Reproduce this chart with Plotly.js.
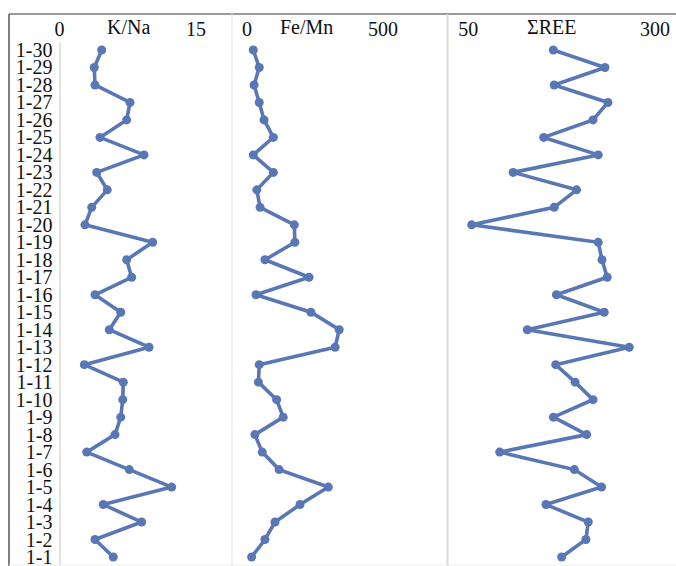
<!DOCTYPE html>
<html>
<head>
<meta charset="utf-8">
<script src="https://cdn.plot.ly/plotly-3.0.1.min.js"></script>
<style>
html,body{margin:0;padding:0;background:#fff;}
#chart{width:676px;height:566px;}
</style>
</head>
<body>
<div id="chart"></div>
<script>
// Sample labels, bottom (1-1) to top (1-30)
const samples = ["1-1","1-2","1-3","1-4","1-5","1-6","1-7","1-8","1-9","1-10",
  "1-11","1-12","1-13","1-14","1-15","1-16","1-17","1-18","1-19","1-20",
  "1-21","1-22","1-23","1-24","1-25","1-26","1-27","1-28","1-29","1-30"];

const kNa = [5.91,3.9,9.03,4.81,12.33,7.67,2.99,6.1,6.73,6.95,
  7.01,2.73,9.84,5.47,6.73,3.9,7.93,7.38,10.24,2.8,
  3.54,5.25,4.09,9.29,4.45,7.38,7.75,3.9,3.82,4.64];

const feMn = [17,66,103,195,299,118,56,29,133,109,
  42,45,324,339,235,33,228,66,176,174,
  48,36,97,23,97,62.5,45,26,45,23];

const sumREE = [175,207.5,210.6,154,228.5,192,92,208.5,164,217,
  193,167,265.5,129,232,168,236,229,224,54.5,
  165,195,110,224,151,217,237,165,233,163.8];

const panelTitles = ["K/Na","Fe/Mn","ΣREE"];
const xRanges = [[0,15],[0,500],[50,300]];

const W = 676, H = 566, T = 41;
const PH = H - T;
const lineColor = "#5a77b5";
const fontFam = "'Liberation Serif', 'Times New Roman', Times, serif";

function py(p){ return (H - p) / PH; }   // pixel row -> paper y

function trace(vals, xa, ya){
  return {
    x: vals, y: samples, xaxis: xa, yaxis: ya,
    type: "scatter", mode: "lines+markers",
    line: {color: lineColor, width: 3.6},
    marker: {color: lineColor, size: 9},
    hoverinfo: "skip", showlegend: false, cliponaxis: false
  };
}

const data = [
  trace(kNa, "x", "y"),
  trace(feMn, "x2", "y2"),
  trace(sumREE, "x3", "y3")
];

const yr = [-0.515, 29.515];
function xax(dom, rng){
  return {
    domain: dom, range: rng, side: "top", tickmode: "array", tickvals: rng,
    ticktext: rng.map(String), showgrid: false, zeroline: false,
    showline: false, ticks: "", tickfont: {family: fontFam, size: 20, color: "#111"},
    fixedrange: true
  };
}
function yax(anchor, show){
  return {
    anchor: anchor, range: yr, type: "category",
    categoryorder: "array", categoryarray: samples,
    tickmode: "array", tickvals: samples, ticktext: samples,
    showticklabels: show, showgrid: false, zeroline: false,
    showline: false, ticks: "", tickfont: {family: fontFam, size: 20, color: "#111"},
    ticklabelstandoff: 6, fixedrange: true
  };
}

const d1 = [59.5/W, 196/W], d2 = [247/W, 383/W], d3 = [468.3/W, 655/W];

const shapes = [
  {type:"line", xref:"paper", yref:"paper", x0:9/W, x1:1, y0:py(14), y1:py(14), line:{color:"#9a9a9a", width:2}},
  {type:"line", xref:"paper", yref:"paper", x0:9/W, x1:9/W, y0:0, y1:py(14), line:{color:"#555", width:1.5}},
  {type:"line", xref:"paper", yref:"paper", x0:60/W, x1:60/W, y0:0, y1:py(42), line:{color:"#d8d8d8", width:1.5}},
  {type:"line", xref:"paper", yref:"paper", x0:232/W, x1:232/W, y0:0, y1:py(14), line:{color:"#ebebeb", width:1.5}},
  {type:"line", xref:"paper", yref:"paper", x0:447.5/W, x1:447.5/W, y0:0, y1:py(14), line:{color:"#e2d8d2", width:2}},
  {type:"line", xref:"paper", yref:"paper", x0:9/W, x1:1, y0:py(565), y1:py(565), line:{color:"#f0f0f0", width:1}}
];

const titleX = [128, 306, 551];
const annotations = panelTitles.map((t,i)=>({
  text: t, xref:"paper", yref:"paper", x: titleX[i]/W, y: py(27.5),
  xanchor:"center", yanchor:"middle", showarrow:false,
  font:{family: fontFam, size: 20, color:"#111"}
}));

const layout = {
  width: W, height: H,
  margin: {l:0, r:0, t:T, b:0, pad:0},
  paper_bgcolor: "#fff", plot_bgcolor: "rgba(0,0,0,0)",
  font: {family: fontFam},
  xaxis: Object.assign(xax(d1, xRanges[0]), {anchor:"y"}),
  xaxis2: Object.assign(xax(d2, xRanges[1]), {anchor:"y2"}),
  xaxis3: Object.assign(xax(d3, xRanges[2]), {anchor:"y3"}),
  yaxis: yax("x", true),
  yaxis2: yax("x2", false),
  yaxis3: yax("x3", false),
  shapes: shapes,
  annotations: annotations,
  showlegend: false
};

Plotly.newPlot("chart", data, layout, {staticPlot: true, displayModeBar: false});
</script>
</body>
</html>
